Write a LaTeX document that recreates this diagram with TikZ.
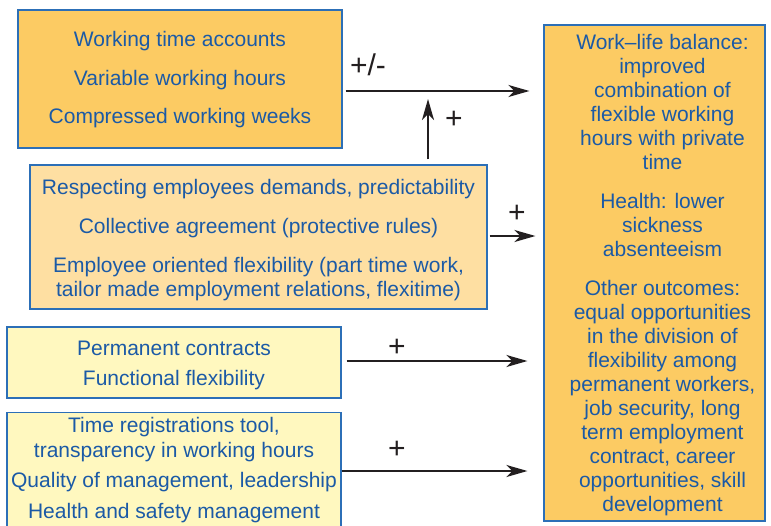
\documentclass[tikz,border=0pt]{standalone}
\usepackage{fontspec}
\setmainfont{Liberation Sans}
\usetikzlibrary{arrows.meta,calc}
\definecolor{fillA}{HTML}{FCCB63}
\definecolor{fillB}{HTML}{FEDFA2}
\definecolor{fillC}{HTML}{FFF8BF}
\definecolor{txtc}{HTML}{1B5AA6}
\definecolor{bordc}{HTML}{2C6FB7}
\definecolor{arrc}{HTML}{231F20}
\begin{document}
\begin{tikzpicture}[x=1pt,y=-1pt,
  box/.style={draw=bordc, line width=1.2pt, text=txtc, align=center,
    font=\fontsize{21}{24}\selectfont, inner sep=0pt},
  arr/.style={draw=arrc, line width=2pt, -{Stealth[length=21pt,width=12pt,inset=6pt]}},
  sign/.style={font=\fontsize{30}{30}\selectfont, text=arrc, inner sep=0pt}]
\useasboundingbox (0,0) rectangle (771,525);
\fill[white] (0,0) rectangle (771,525);
\node[box, fill=fillA, minimum width=324pt, minimum height=138pt] (b1) at (180,79)
  {\rule{0pt}{17pt}Working time accounts\\[14.5pt]Variable working hours\\[14.5pt]Compressed working weeks};
\node[box, fill=fillB, minimum width=457pt, minimum height=144pt] (b2) at (258.5,237)
  {\rule{0pt}{22pt}Respecting employees demands, predictability\\[15pt]Collective agreement (protective rules)\\[15pt]Employee oriented flexibility (part time work,\\tailor made employment relations, flexitime)};
\node[box, fill=fillC, minimum width=334pt, minimum height=71pt] (b3) at (174,362.5)
  {\rule{0pt}{20pt}Permanent contracts\\[6pt]Functional flexibility};
\node[box, fill=fillC, minimum width=334pt, anchor=north, inner ysep=5pt, text depth=30pt] (b4) at (174,412)
  {Time registrations tool,\\[0.5pt]transparency in working hours\\[6.5pt]Quality of management, leadership\\[7pt]Health and safety management};
\node[box, fill=fillA, minimum width=221pt, minimum height=496pt] (out) at (654.5,273)
  {\hspace*{16pt}\begin{tabular}{@{}c@{}}\rule{0pt}{22pt}Work–life balance:\\improved\\combination of\\flexible working\\hours with private\\time\\[15pt]Health: lower\\sickness\\absenteeism\\[15pt]Other outcomes:\\equal opportunities\\in the division of\\flexibility among\\permanent workers,\\job security, long\\term employment\\contract, career\\opportunities, skill\\development\end{tabular}};
% connectors
\coordinate (j) at ($(b1.east)+(0,12)$);
\draw[arr] ($(j)+(3,0)$) -- ($(j -| out.west)+(-14,0)$);
\coordinate (jv) at (428,91);
\draw[arr] ($(b2.north -| jv)+(0,-5)$) -- ($(jv)+(0,8)$);
\draw[arr] ($(b2.east)+(2,-1)$) -- ($(b2.east -| out.west)+(-8,-1)$);
\draw[arr] ($(b3.east)+(5,-1.5)$) -- ($(b3.east -| out.west)+(-16,-1.5)$);
\coordinate (k) at (0,471);
\draw[arr] (b4.east |- k) -- ($(out.west |- k)+(-16,0)$);
% signs
\node[sign] (s1) at (368,65) {+/-};
\node[sign] (s2) at (454,120) {+};
\node[sign] (s3) at (517,214) {+};
\node[sign] (s4) at (397,348) {+};
\node[sign] (s5) at (397,450) {+};
\end{tikzpicture}
\end{document}
